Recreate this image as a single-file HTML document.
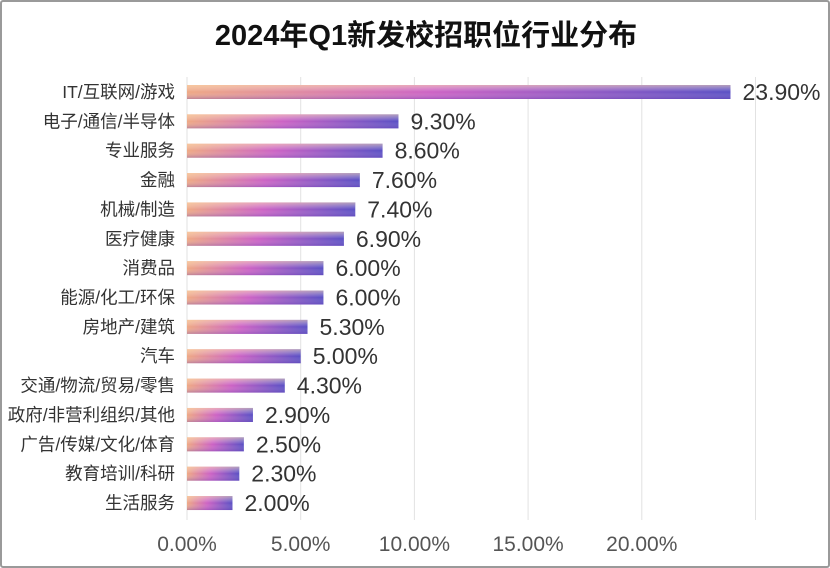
<!DOCTYPE html>
<html><head><meta charset="utf-8"><style>
body{margin:0;background:#fff;}
#wrap{position:relative;width:830px;height:568px;overflow:hidden;background:#fff;box-sizing:border-box;border:2px solid #9a9a9a;border-radius:3px;}
svg text{font-family:"Liberation Sans","Noto Sans CJK SC",sans-serif;}
</style></head><body>
<div id="wrap">
<svg id="chart" width="826" height="564">
<defs>
<linearGradient id="gh" x1="0" x2="1" y1="0" y2="0">
<stop offset="0" stop-color="#eea884"/><stop offset="0.45" stop-color="#cc62c4"/><stop offset="1" stop-color="#5a4fc4"/>
</linearGradient>
<linearGradient id="gv" x1="0" x2="0" y1="0" y2="1">
<stop offset="0" stop-color="#ffe0b0" stop-opacity="0.55"/><stop offset="0.5" stop-color="#fff" stop-opacity="0"/><stop offset="1" stop-color="#6a40b0" stop-opacity="0.35"/>
</linearGradient>
</defs>
<text x="424" y="43" text-anchor="middle" font-size="29" font-weight="bold" fill="#111">2024年Q1新发校招职位行业分布</text>
<g id="grid"></g><g id="bars"></g><g id="xt"></g>
</svg>
</div>
<script>
const categories=["IT/互联网/游戏","电子/通信/半导体","专业服务","金融","机械/制造","医疗健康","消费品","能源/化工/环保","房地产/建筑","汽车","交通/物流/贸易/零售","政府/非营利组织/其他","广告/传媒/文化/体育","教育培训/科研","生活服务"];
const values=[23.9,9.3,8.6,7.6,7.4,6.9,6.0,6.0,5.3,5.0,4.3,2.9,2.5,2.3,2.0];
const ticks=[0,5,10,15,20,25];
const tickLabels=["0.00%","5.00%","10.00%","15.00%","20.00%",""];
const NS="http://www.w3.org/2000/svg";
const x0=185,pxPer=22.74,y0=90,step=29.36,bh=14;
const xs=v=>x0+v*pxPer, ys=i=>y0+i*step;
function mk(t,a,p){const e=document.createElementNS(NS,t);for(const k in a)e.setAttribute(k,a[k]);p.appendChild(e);return e;}
const G=document.getElementById('grid'),B=document.getElementById('bars'),X=document.getElementById('xt');
ticks.forEach((t,i)=>{
 const l=mk('line',{x1:xs(t),x2:xs(t),y1:75,y2:518,stroke:'#e2e2e2','stroke-width':1},G);
 
 
 if(tickLabels[i]){const tx=mk('text',{x:xs(t),y:549,'text-anchor':'middle','font-size':21,fill:'#555'},X);tx.textContent=tickLabels[i];
 
 }
});
categories.forEach((c,i)=>{
 const y=ys(i);
 const lb=mk('text',{x:x0-12,y:y+6,'text-anchor':'end','font-size':17.5,fill:'#333'},B);lb.textContent=c;
 
 
 const r=mk('rect',{x:x0,y:y-bh/2,width:xs(values[i])-x0,height:bh,fill:'url(#gh)'},B);
 
 
 mk('rect',{x:x0,y:y-bh/2,width:xs(values[i])-x0,height:bh,fill:'url(#gv)'},B);
 const vl=mk('text',{x:xs(values[i])+12,y:y+8,'font-size':23,fill:'#333'},B);vl.textContent=values[i].toFixed(2)+'%';
 
 
});
</script>
</body></html>
